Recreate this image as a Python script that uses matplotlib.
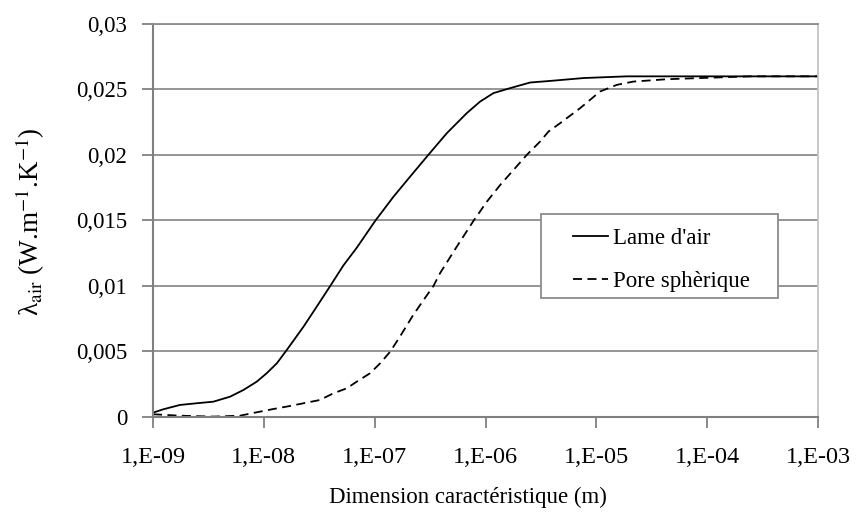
import matplotlib
matplotlib.use("Agg")
import matplotlib.pyplot as plt
from matplotlib.patches import Rectangle

plt.rcParams["font.family"] = ["Liberation Serif", "DejaVu Serif"]
plt.rcParams["mathtext.fontset"] = "stix"

# Characteristic dimension (m) and air conductivity (W.m-1.K-1)
lame_x = [1.0e-9, 1.24e-9, 1.75e-9, 2.48e-9, 3.50e-9, 4.95e-9, 6.53e-9, 8.63e-9,
          1.06e-8, 1.31e-8, 1.61e-8, 2.28e-8, 3.00e-8, 3.95e-8, 5.22e-8, 6.89e-8,
          1.01e-7, 1.48e-7, 2.09e-7, 3.05e-7, 4.48e-7, 6.78e-7, 8.93e-7, 1.18e-6,
          1.67e-6, 2.53e-6, 3.83e-6, 7.66e-6, 1.88e-5, 1e-4, 1e-3]
lame_y = [0.0003, 0.00056, 0.00089, 0.00102, 0.00114, 0.00152, 0.00203, 0.00267,
          0.00331, 0.00407, 0.00509, 0.00687, 0.0084, 0.00995, 0.01155, 0.0129,
          0.01495, 0.01681, 0.01834, 0.0200, 0.02166, 0.02319, 0.02407, 0.02472,
          0.0251, 0.02553, 0.02565, 0.02587, 0.0260, 0.0260, 0.0260]

pore_x = [1.0e-9, 1.75e-9, 3.50e-9, 6.10e-9, 8.63e-9, 1.22e-8, 1.72e-8, 2.28e-8,
          3.21e-8, 4.24e-8, 5.60e-8, 6.89e-8, 9.08e-8, 1.12e-7, 1.38e-7, 1.69e-7,
          2.23e-7, 2.80e-7, 3.39e-7, 3.89e-7, 5.51e-7, 7.78e-7, 1.03e-6, 1.36e-6,
          1.79e-6, 2.36e-6, 3.11e-6, 3.70e-6, 4.71e-6, 7.14e-6, 1.08e-5, 1.53e-5,
          2.16e-5, 4.33e-5, 8.65e-5, 2.44e-4, 1e-3]
pore_y = [0.00018, 0.00007, 0.0, 0.00007, 0.00033, 0.00058, 0.00081, 0.00102,
          0.00127, 0.00178, 0.00216, 0.00267, 0.00331, 0.00407, 0.00496, 0.00611,
          0.00777, 0.00898, 0.00998, 0.01096, 0.01299, 0.01495, 0.01643, 0.01771,
          0.01885, 0.0200, 0.02102, 0.02178, 0.02242, 0.02357, 0.02484, 0.02535,
          0.0256, 0.02578, 0.02587, 0.0260, 0.0260]

series_labels = ["Lame d'air", "Pore sphèrique"]

x_ticks = [1e-9, 1e-8, 1e-7, 1e-6, 1e-5, 1e-4, 1e-3]
x_tick_labels = ["1,E-09", "1,E-08", "1,E-07", "1,E-06", "1,E-05", "1,E-04", "1,E-03"]
y_ticks = [0, 0.005, 0.01, 0.015, 0.02, 0.025, 0.03]
y_tick_labels = ["0", "0,005", "0,01", "0,015", "0,02", "0,025", "0,03"]

W, H = 856, 513
fig = plt.figure(figsize=(W / 100, H / 100), dpi=100)
ax = fig.add_axes([153 / W, 1 - 416.6 / H, 665 / W, 392.6 / H])

ax.set_xscale("log")
ax.set_xlim(1e-9, 1e-3)
ax.set_ylim(0, 0.03)

ax.grid(True, axis="y", color="#8c8c8c", linewidth=1.3)
ax.set_axisbelow(True)

ax.plot(lame_x, lame_y, color="black", linewidth=1.3, label=series_labels[0])
ax.plot(pore_x, pore_y, color="black", linewidth=1.3, dashes=(5, 3),
        label=series_labels[1])

ax.set_xticks(x_ticks)
ax.set_xticklabels(x_tick_labels)
ax.minorticks_off()
ax.set_yticks(y_ticks)
ax.set_yticklabels(y_tick_labels)
ax.tick_params(axis="both", colors="#808080", labelcolor="black",
               length=8, width=1.3, direction="out")
ax.tick_params(axis="x", labelsize=17.5, pad=14)
ax.tick_params(axis="y", labelsize=16.5, pad=10.5)

for side in ("left", "bottom"):
    ax.spines[side].set_color("#808080")
    ax.spines[side].set_linewidth(1.5)
ax.spines["right"].set_color("#c4c4c4")
ax.spines["right"].set_linewidth(1.3)
ax.spines["top"].set_color("#8c8c8c")
ax.spines["top"].set_linewidth(1.3)

ax.set_xlabel("Dimension caractéristique (m)", fontsize=16.5)
ax.xaxis.set_label_coords((468 - 153) / 665, (416.6 - 487) / 392.6)
ax.set_ylabel("λ$_{\\mathrm{air}}$ (W.m$^{-1}$.K$^{-1}$)", fontsize=19.5)
ax.yaxis.set_label_coords((47 - 153) / 665, 0.497)

# Legend frame drawn as a plain box, entries placed inside it
ax.add_patch(Rectangle(((541 - 153) / 665, (416.6 - 298) / 392.6), 237 / 665,
                       84 / 392.6, transform=ax.transAxes, facecolor="white",
                       edgecolor="#8c8c8c", linewidth=1.3, zorder=4))
leg = ax.legend(loc="upper left",
                bbox_to_anchor=((573 - 153) / 665, (416.6 - 228) / 392.6),
                fontsize=16.5, frameon=False, handlelength=1.52,
                handletextpad=0.22, labelspacing=0.97, borderpad=0,
                borderaxespad=0)
leg.set_zorder(5)

fig.savefig("out.png", dpi=100)
